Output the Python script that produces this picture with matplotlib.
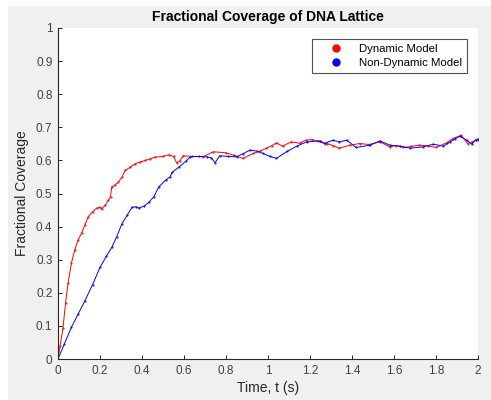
import matplotlib
matplotlib.use("Agg")
import matplotlib.pyplot as plt
from matplotlib.patches import Rectangle
from matplotlib.lines import Line2D

# Dynamic model (red)
t_dyn = [0.0, 0.01, 0.024, 0.036, 0.048, 0.064, 0.08, 0.096, 0.112, 0.128, 0.144,
         0.165, 0.184, 0.2, 0.208, 0.225, 0.24, 0.25, 0.256, 0.27, 0.288, 0.305,
         0.32, 0.345, 0.368, 0.39, 0.416, 0.44, 0.464, 0.5, 0.528, 0.55, 0.565,
         0.58, 0.596, 0.64, 0.69, 0.74, 0.80, 0.84, 0.88, 0.93, 0.96, 0.99, 1.02,
         1.04, 1.07, 1.11, 1.15, 1.18, 1.21, 1.24, 1.27, 1.28, 1.31, 1.34, 1.39,
         1.438, 1.48, 1.533, 1.58, 1.61, 1.645, 1.68, 1.72, 1.76, 1.80, 1.85,
         1.88, 1.92, 1.95, 1.97, 1.99, 2.0]
cov_dyn = [0.0, 0.04, 0.095, 0.17, 0.23, 0.29, 0.33, 0.36, 0.38, 0.405, 0.43,
           0.445, 0.456, 0.458, 0.453, 0.465, 0.48, 0.49, 0.52, 0.525, 0.535, 0.55,
           0.57, 0.58, 0.59, 0.595, 0.60, 0.605, 0.61, 0.612, 0.617, 0.612, 0.593,
           0.598, 0.614, 0.612, 0.611, 0.626, 0.623, 0.615, 0.606, 0.621, 0.628,
           0.636, 0.645, 0.653, 0.643, 0.656, 0.652, 0.661, 0.663, 0.658, 0.65,
           0.651, 0.645, 0.637, 0.646, 0.651, 0.648, 0.656, 0.641, 0.645, 0.639,
           0.642, 0.646, 0.644, 0.639, 0.653, 0.666, 0.676, 0.651, 0.655, 0.661, 0.662]

# Non-dynamic model (blue)
t_non = [0.0, 0.03, 0.064, 0.096, 0.128, 0.165, 0.2, 0.23, 0.256, 0.28, 0.304,
         0.33, 0.352, 0.37, 0.384, 0.41, 0.432, 0.456, 0.48, 0.512, 0.533, 0.544,
         0.576, 0.608, 0.63, 0.67, 0.708, 0.73, 0.748, 0.77, 0.81, 0.85, 0.88,
         0.914, 0.946, 0.976, 1.01, 1.04, 1.09, 1.137, 1.184, 1.248, 1.27, 1.31,
         1.34, 1.375, 1.42, 1.486, 1.533, 1.58, 1.629, 1.676, 1.74, 1.787, 1.835,
         1.867, 1.89, 1.914, 1.946, 1.97, 1.99, 2.0]
cov_non = [0.0, 0.045, 0.096, 0.136, 0.176, 0.225, 0.277, 0.31, 0.337, 0.37, 0.408,
           0.435, 0.458, 0.46, 0.456, 0.462, 0.473, 0.49, 0.52, 0.54, 0.55, 0.564,
           0.58, 0.597, 0.611, 0.612, 0.611, 0.608, 0.593, 0.614, 0.612, 0.611,
           0.62, 0.631, 0.628, 0.621, 0.612, 0.606, 0.627, 0.643, 0.656, 0.659,
           0.652, 0.661, 0.656, 0.661, 0.639, 0.646, 0.659, 0.646, 0.643, 0.637,
           0.641, 0.649, 0.643, 0.656, 0.665, 0.673, 0.661, 0.649, 0.663, 0.665]

x_ticks = [0, 0.2, 0.4, 0.6, 0.8, 1, 1.2, 1.4, 1.6, 1.8, 2]
x_labels = ["0", "0.2", "0.4", "0.6", "0.8", "1", "1.2", "1.4", "1.6", "1.8", "2"]
y_ticks = [0, 0.1, 0.2, 0.3, 0.4, 0.5, 0.6, 0.7, 0.8, 0.9, 1]
y_labels = ["0", "0.1", "0.2", "0.3", "0.4", "0.5", "0.6", "0.7", "0.8", "0.9", "1"]

plt.rcParams['font.family'] = ['Liberation Sans', 'DejaVu Sans']

fig = plt.figure(figsize=(4.91, 4.00), dpi=100, facecolor='white')
bg = Rectangle((8 / 491, 0), 1, 394 / 400, transform=fig.transFigure,
               facecolor='#f0f0f0', edgecolor='none', zorder=-10)
fig.patches.append(bg)

ax = fig.add_axes([58 / 491, 41 / 400, 420 / 491, 331 / 400])
ax.set_zorder(1)
ax.set_facecolor('white')

ax.plot(t_dyn, cov_dyn, color='#ff0000', lw=0.7, marker='.', ms=1.0)
ax.plot(t_non, cov_non, color='#0000ff', lw=0.7, marker='.', ms=1.0)

ax.set_xlim(0, 2)
ax.set_ylim(0, 1)
ax.set_xticks(x_ticks)
ax.set_xticklabels(x_labels)
ax.set_yticks(y_ticks)
ax.set_yticklabels(y_labels)

for s in ['top', 'right']:
    ax.spines[s].set_visible(False)
for s in ['left', 'bottom']:
    ax.spines[s].set_color('#262626')
    ax.spines[s].set_linewidth(0.8)
ax.tick_params(direction='in', length=3, width=0.7, colors='#262626',
               labelsize=8.5, labelcolor='#404040', pad=4)

ax.set_title('Fractional Coverage of DNA Lattice', fontsize=10, fontweight='bold',
             color='#000000', pad=5)
ax.set_xlabel('Time, t (s)', fontsize=10, color='#262626', labelpad=3)
ax.set_ylabel('Fractional Coverage', fontsize=10, color='#262626', labelpad=5)

handles = [Line2D([], [], ls='none', marker='o', color='#ff0000', ms=5),
           Line2D([], [], ls='none', marker='o', color='#0000ff', ms=5)]
leg = ax.legend(handles, ['Dynamic Model', 'Non-Dynamic Model'], loc='upper right',
                bbox_to_anchor=(0.988, 0.985), fontsize=8.2, frameon=True,
                fancybox=False, edgecolor='#262626', handletextpad=0.3,
                borderpad=0.45, labelspacing=0.35, handlelength=3.4)
leg.get_frame().set_linewidth(0.8)

fig.savefig('out.png', dpi=100, facecolor=fig.get_facecolor())
